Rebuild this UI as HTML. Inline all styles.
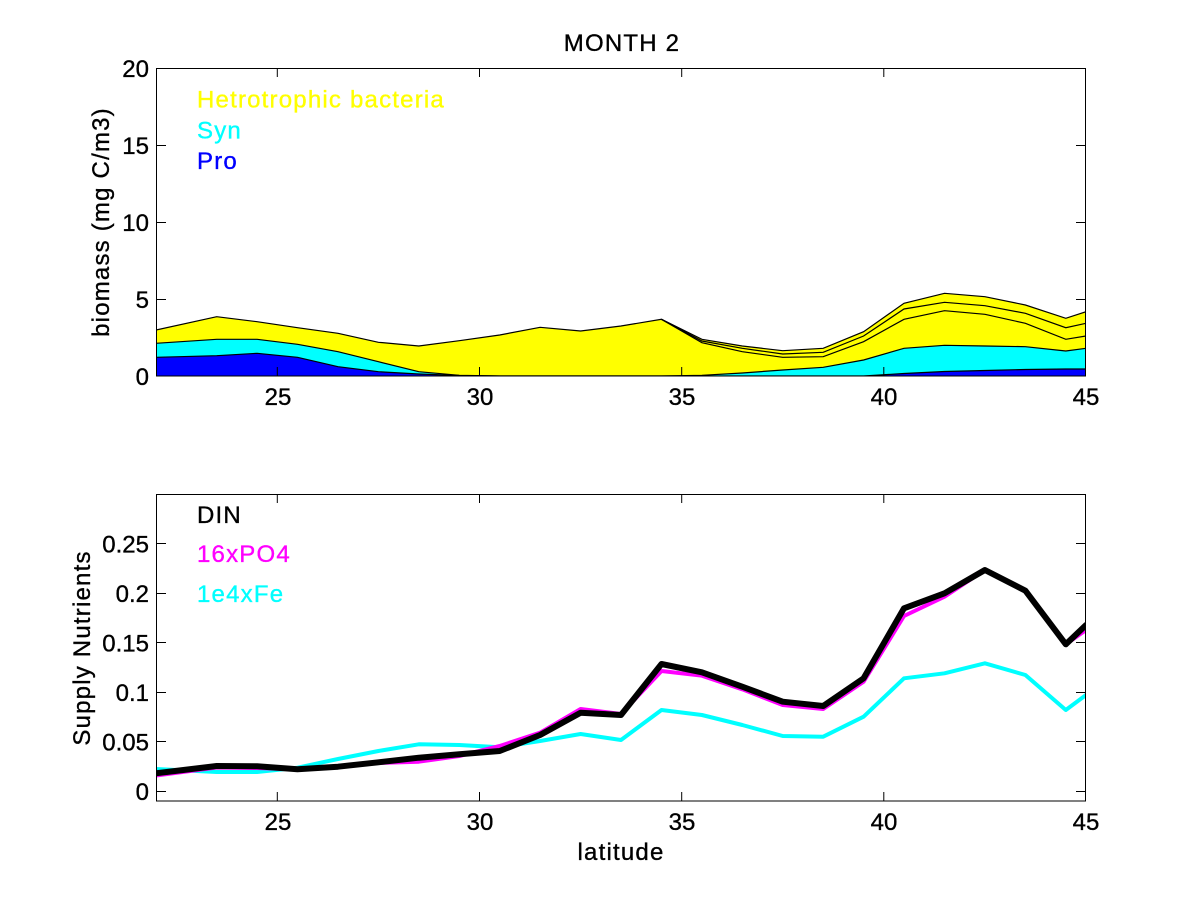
<!DOCTYPE html>
<html><head><meta charset="utf-8"><style>
html,body{margin:0;padding:0;background:#fff;}
svg{display:block;}
text{font-family:"Liberation Sans",Arial,sans-serif;font-size:24px;fill:#000;stroke:#000;stroke-width:0.35px;}
.ls{letter-spacing:1.2px;}
.y{fill:#ffff00;stroke:#ffff00;}
.c{fill:#00ffff;stroke:#00ffff;}
.b{fill:#0000ff;stroke:#0000ff;}
.m{fill:#ff00ff;stroke:#ff00ff;}
</style></head><body>
<svg width="1200" height="900" viewBox="0 0 1200 900" xmlns="http://www.w3.org/2000/svg">
<defs>
<clipPath id="c1"><rect x="156" y="68" width="930" height="308"/></clipPath>
<clipPath id="c2"><rect x="156" y="494" width="930" height="307"/></clipPath>
</defs>
<rect width="1200" height="900" fill="#fff"/>

<!-- TOP CHART -->
<g clip-path="url(#c1)">
<polygon fill="#ffff00" points="156,376 156,330 216.7,316.7 257.1,321.7 297.5,327.7 338,333.3 378.4,342.3 418.8,346 459.3,340.7 499.7,335 540.1,327.3 580.6,331 621,326 661.5,319.3 701.9,339.3 742.3,346 782.7,350.7 823.2,348.3 863.6,331.7 904,303.3 944.5,293.3 984.9,296.7 1025.4,305 1065.8,318.3 1086,311.7 1086,376"/>
<polygon fill="#00ffff" points="156,376 156,343.3 216.7,339.3 257.1,339.3 297.5,344.3 338,351.7 378.4,361.7 418.8,371.7 459.3,375.3 499.7,376 661.5,376 701.9,375.3 742.3,373 782.7,370 823.2,367.3 863.6,360 904,348.3 944.5,345.3 984.9,346 1025.4,346.7 1065.8,351 1086,348.3 1086,376"/>
<polygon fill="#0000ff" points="156,376 156,357.3 216.7,355.7 257.1,353.3 297.5,357.3 338,366.7 378.4,371.7 418.8,374 459.3,375.5 499.7,376 863.6,376 904,373.5 944.5,371.5 984.9,370.5 1025.4,369.5 1065.8,369 1086,369 1086,376"/>
<g fill="none" stroke="#000" stroke-width="1.2">
<polyline points="156,330 216.7,316.7 257.1,321.7 297.5,327.7 338,333.3 378.4,342.3 418.8,346 459.3,340.7 499.7,335 540.1,327.3 580.6,331 621,326 661.5,319.3 701.9,339.3 742.3,346 782.7,350.7 823.2,348.3 863.6,331.7 904,303.3 944.5,293.3 984.9,296.7 1025.4,305 1065.8,318.3 1086,311.7"/>
<polyline points="661.5,319.3 701.9,341 742.3,348.3 782.7,354 823.2,352.3 863.6,336 904,309 944.5,302.3 984.9,305.7 1025.4,313.3 1065.8,327.7 1086,323.3"/>
<polyline points="661.5,319.3 701.9,342.7 742.3,351.7 782.7,357.3 823.2,356.7 863.6,341.7 904,319.3 944.5,310.7 984.9,314.3 1025.4,323.3 1065.8,339.3 1086,336"/>
<polyline points="156,343.3 216.7,339.3 257.1,339.3 297.5,344.3 338,351.7 378.4,361.7 418.8,371.7 459.3,375.3 499.7,376 661.5,376 701.9,375.3 742.3,373 782.7,370 823.2,367.3 863.6,360 904,348.3 944.5,345.3 984.9,346 1025.4,346.7 1065.8,351 1086,348.3"/>
<polyline points="156,357.3 216.7,355.7 257.1,353.3 297.5,357.3 338,366.7 378.4,371.7 418.8,374 459.3,375.5 499.7,376 863.6,376 904,373.5 944.5,371.5 984.9,370.5 1025.4,369.5 1065.8,369 1086,369"/>
</g>
</g>
<rect x="156.5" y="68.5" width="929" height="307.5" fill="none" stroke="#000" stroke-width="1"/>
<g stroke="#000" stroke-width="1">
<line x1="277.3" y1="376" x2="277.3" y2="367"/><line x1="277.3" y1="68" x2="277.3" y2="77"/>
<line x1="479.5" y1="376" x2="479.5" y2="367"/><line x1="479.5" y1="68" x2="479.5" y2="77"/>
<line x1="681.7" y1="376" x2="681.7" y2="367"/><line x1="681.7" y1="68" x2="681.7" y2="77"/>
<line x1="883.8" y1="376" x2="883.8" y2="367"/><line x1="883.8" y1="68" x2="883.8" y2="77"/>
<line x1="156" y1="299.5" x2="166" y2="299.5"/><line x1="1086" y1="299.5" x2="1076" y2="299.5"/>
<line x1="156" y1="222.5" x2="166" y2="222.5"/><line x1="1086" y1="222.5" x2="1076" y2="222.5"/>
<line x1="156" y1="145.5" x2="166" y2="145.5"/><line x1="1086" y1="145.5" x2="1076" y2="145.5"/>
</g>
<g text-anchor="end">
<text x="149" y="385">0</text>
<text x="149" y="308">5</text>
<text x="149" y="231">10</text>
<text x="149" y="154">15</text>
<text x="149" y="77">20</text>
</g>
<g text-anchor="middle">
<text x="278" y="405">25</text>
<text x="480" y="405">30</text>
<text x="682" y="405">35</text>
<text x="884" y="405">40</text>
<text x="1086" y="405">45</text>
</g>
<text class="ls" x="622" y="51" text-anchor="middle">MONTH 2</text>
<text class="ls y" x="197" y="107.5">Hetrotrophic bacteria</text>
<text class="ls c" x="197" y="138.5">Syn</text>
<text class="ls b" x="197" y="169">Pro</text>
<text class="ls" transform="translate(109,222) rotate(-90)" text-anchor="middle">biomass (mg C/m3)</text>

<!-- BOTTOM CHART -->
<g clip-path="url(#c2)" fill="none" stroke-linejoin="round" stroke-linecap="round">
<polyline stroke="#00ffff" stroke-width="4" points="156,769 216.7,772 257.1,772 297.5,767.7 338,759 378.4,751 418.8,744.3 459.3,745 499.7,747.3 540.1,741 580.6,734 621,740 661.5,710 701.9,715 742.3,725 782.7,736 823.2,736.7 863.6,716.7 904,678.3 944.5,673.3 984.9,663.3 1025.4,675 1065.8,710 1086,695"/>
<polyline stroke="#ff00ff" stroke-width="4" points="156,775.5 216.7,767.5 257.1,768 297.5,769.5 338,766 378.4,763 418.8,761.7 459.3,756 499.7,746 540.1,732.7 580.6,709 621,714 661.5,671 701.9,675.7 742.3,689.3 782.7,705 823.2,709 863.6,681.7 904,616 944.5,596.7 984.9,570 1025.4,590.7 1065.8,644.3 1086,630"/>
<polyline stroke="#000000" stroke-width="6" points="156,773.3 216.7,766 257.1,766.3 297.5,769.3 338,766.7 378.4,762.3 418.8,757.7 459.3,754.3 499.7,751 540.1,735 580.6,712.7 621,715 661.5,664 701.9,672.3 742.3,686.7 782.7,701.7 823.2,706 863.6,678.3 904,608.3 944.5,593.3 984.9,570 1025.4,590.7 1065.8,644.3 1086,625"/>
</g>
<rect x="156.5" y="494.5" width="929" height="306.5" fill="none" stroke="#000" stroke-width="1"/>
<g stroke="#000" stroke-width="1">
<line x1="277.3" y1="801" x2="277.3" y2="792"/><line x1="277.3" y1="494" x2="277.3" y2="503"/>
<line x1="479.5" y1="801" x2="479.5" y2="792"/><line x1="479.5" y1="494" x2="479.5" y2="503"/>
<line x1="681.7" y1="801" x2="681.7" y2="792"/><line x1="681.7" y1="494" x2="681.7" y2="503"/>
<line x1="883.8" y1="801" x2="883.8" y2="792"/><line x1="883.8" y1="494" x2="883.8" y2="503"/>
<line x1="156" y1="791.5" x2="166" y2="791.5"/><line x1="1086" y1="791.5" x2="1076" y2="791.5"/>
<line x1="156" y1="741.5" x2="166" y2="741.5"/><line x1="1086" y1="741.5" x2="1076" y2="741.5"/>
<line x1="156" y1="692.5" x2="166" y2="692.5"/><line x1="1086" y1="692.5" x2="1076" y2="692.5"/>
<line x1="156" y1="642.5" x2="166" y2="642.5"/><line x1="1086" y1="642.5" x2="1076" y2="642.5"/>
<line x1="156" y1="593.5" x2="166" y2="593.5"/><line x1="1086" y1="593.5" x2="1076" y2="593.5"/>
<line x1="156" y1="543.5" x2="166" y2="543.5"/><line x1="1086" y1="543.5" x2="1076" y2="543.5"/>
</g>
<g text-anchor="end">
<text x="149" y="800">0</text>
<text x="149" y="750.5">0.05</text>
<text x="149" y="701">0.1</text>
<text x="149" y="651.5">0.15</text>
<text x="149" y="602">0.2</text>
<text x="149" y="552.5">0.25</text>
</g>
<g text-anchor="middle">
<text x="278" y="830">25</text>
<text x="480" y="830">30</text>
<text x="682" y="830">35</text>
<text x="884" y="830">40</text>
<text x="1086" y="830">45</text>
</g>
<text class="ls" x="197" y="523">DIN</text>
<text class="ls m" x="197" y="562">16xPO4</text>
<text class="ls c" x="197" y="602">1e4xFe</text>
<text class="ls" transform="translate(90,648) rotate(-90)" text-anchor="middle">Supply Nutrients</text>
<text class="ls" x="621" y="860" text-anchor="middle">latitude</text>
</svg>
</body></html>
